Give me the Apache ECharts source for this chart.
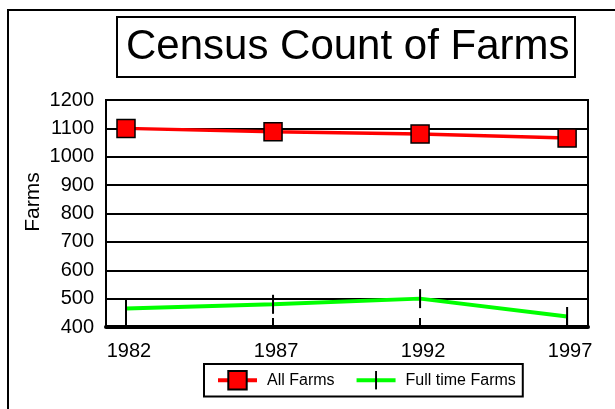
<!DOCTYPE html>
<html>
<head>
<meta charset="utf-8">
<script src="https://cdn.jsdelivr.net/npm/echarts@6/dist/echarts.min.js"></script>
<style>html,body{margin:0;padding:0;background:#fff}#c{width:615px;height:409px}</style>
</head>
<body>
<div id="c"></div>
<script>
var years = [1982, 1987, 1992, 1997];
var allFarms = [1100, 1088, 1080, 1066];
var fullTimeFarms = [465, 480, 500, 437];
var yTicks = [400, 500, 600, 700, 800, 900, 1000, 1100, 1200];

function pairs(xs, ys) { return xs.map(function (x, i) { return [x, ys[i]]; }); }

var FONT = 'Liberation Sans, Arial, sans-serif';
// vertical bar glyph inside a square bounding box (move-to points define the box)
var BAR = 'path://M0,0M19,19M8.5,0h2v19h-2z';
var chart = echarts.init(document.getElementById('c'), null, { renderer: 'canvas' });
chart.setOption({
  animation: false,
  backgroundColor: '#fff',
  textStyle: { fontFamily: FONT, color: '#000' },
  graphic: [
    { type: 'rect', shape: { x: 8, y: 10, width: 640, height: 440 }, style: { fill: 'none', stroke: '#000', lineWidth: 2 }, silent: true, z: -10 },
    { type: 'text', x: 33, y: 202, rotation: Math.PI / 2, style: { text: 'Farms', fontFamily: FONT, fontSize: 21, fill: '#000', align: 'center', verticalAlign: 'middle' } }
  ],
  title: {
    text: 'Census Count of Farms',
    left: 117, top: 17,
    padding: [9, 6, 9, 9],
    borderColor: '#000', borderWidth: 2,
    textStyle: { fontFamily: FONT, fontSize: 42, fontWeight: 'normal', color: '#000', lineHeight: 42 }
  },
  legend: {
    left: 204, top: 364,
    padding: [6, 7, 6, 12],
    borderColor: '#000', borderWidth: 2,
    itemWidth: 39, itemHeight: 23, itemGap: 20,
    lineStyle: { width: 4 },
    textStyle: { fontFamily: FONT, fontSize: 16, color: '#000', padding: [0, 0, 0, 5] },
    data: ['All Farms', 'Full time Farms']
  },
  grid: { left: 106, right: 27, top: 100, bottom: 82, show: true, borderColor: '#000', borderWidth: 2 },
  xAxis: {
    type: 'value',
    min: 1981.32, max: 1997.71,
    axisLine: { show: true, lineStyle: { color: '#000', width: 4 } },
    axisTick: { show: true, inside: true, length: 9, customValues: years, lineStyle: { color: '#000', width: 2 } },
    axisLabel: { customValues: years, formatter: function (v) { return String(v); }, fontFamily: FONT, fontSize: 20, color: '#000', margin: 14, padding: [0, 0, 0, 6] },
    splitLine: { show: false }
  },
  yAxis: {
    type: 'value',
    min: yTicks[0], max: yTicks[yTicks.length - 1], interval: 100,
    axisLine: { show: true, lineStyle: { color: '#000', width: 2 } },
    axisTick: { show: false },
    axisLabel: { formatter: function (v) { return String(v); }, fontFamily: FONT, fontSize: 20, color: '#000', margin: 12 },
    splitLine: { show: true, lineStyle: { color: '#000', width: 2 } }
  },
  series: [
    {
      name: 'All Farms', type: 'line', data: pairs(years, allFarms),
      symbol: 'rect', symbolSize: 18,
      lineStyle: { color: '#ff0000', width: 3.5 },
      itemStyle: { color: '#ff0000', borderColor: '#000', borderWidth: 1.5 },
      z: 3
    },
    {
      name: 'Full time Farms', type: 'line', data: pairs(years, fullTimeFarms),
      symbol: BAR, symbolSize: 19,
      lineStyle: { color: '#00ff00', width: 4 },
      itemStyle: { color: '#000', borderWidth: 0 },
      z: 3
    }
  ]
});
</script>
</body>
</html>
